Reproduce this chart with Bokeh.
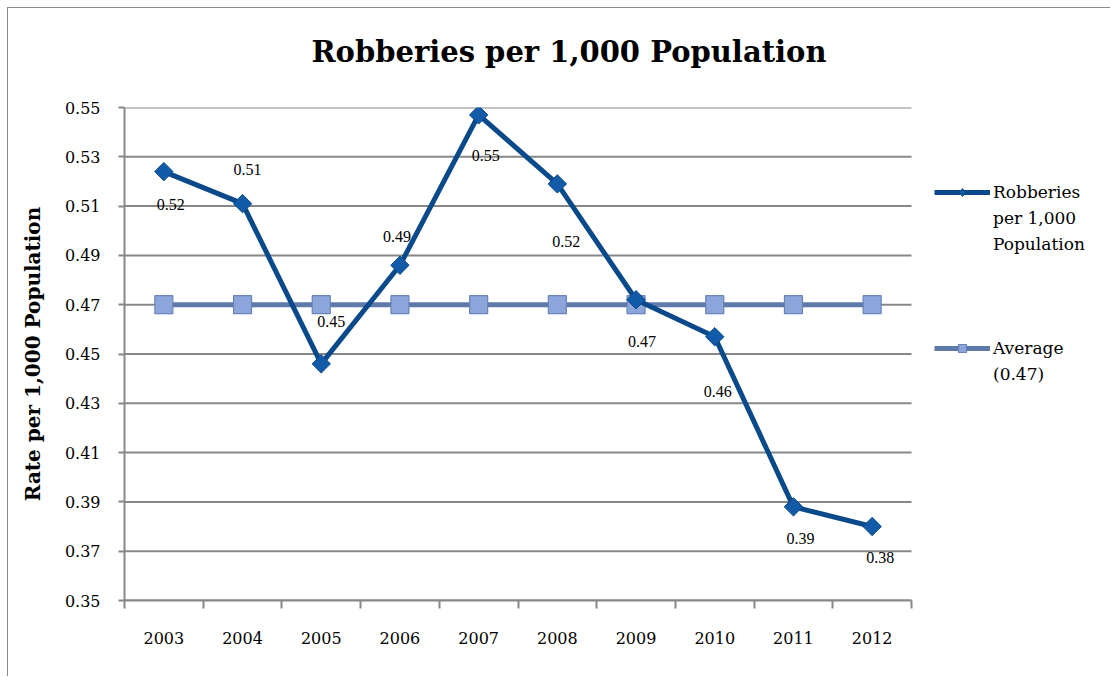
import numpy as np
from bokeh.plotting import figure
from bokeh.models import (Range1d, FixedTicker, PrintfTickFormatter, Legend, LegendItem,
                          ColumnDataSource)
from bokeh.embed import file_html
from bokeh.resources import INLINE

# ---- data ----
years = ["2003", "2004", "2005", "2006", "2007", "2008", "2009", "2010", "2011", "2012"]
robberies = [0.524, 0.511, 0.446, 0.486, 0.547, 0.519, 0.472, 0.457, 0.388, 0.380]
average = [0.47, 0.47, 0.47, 0.47, 0.47, 0.47, 0.47, 0.47, 0.47, 0.47]
y_ticks = [0.35, 0.37, 0.39, 0.41, 0.43, 0.45, 0.47, 0.49, 0.51, 0.53, 0.55]
Y0, Y1 = 0.35, 0.55

# label placement (screen px offsets from each point)
label_dx = [7, 5, 10, -3, 7, 9, 6, 3, 7, 8]
label_dy = [33, -34, -42, -29, 41, 58, 42, 55, 32, 31]

FONT = "DejaVu Serif"
GRID = "#878787"
DARK = "#0B4A8A"
DIAM = "#115BA8"
AVG_LINE = "#5E79AA"
AVG_FILL = "#8CA5DA"
AVG_EDGE = "#6A84B8"

# geometry (px inside the canvas): plotting area spans FL..FR, legend lives right of FR
FL, FR, FT, FB = 116, 903, 99, 592
W, H = 1103, 669
N = len(years)
X_END = N * (W - FL) / (FR - FL)

xpos = np.arange(N) + 0.5

src = ColumnDataSource(dict(
    x=xpos, rob=robberies, avg=average,
    lbl=[f"{v:.2f}" for v in robberies],
    dx=label_dx, dy=label_dy,
))
grid_src = ColumnDataSource(dict(x0=[0] * len(y_ticks), x1=[N] * len(y_ticks), y=y_ticks))

p = figure(width=W, height=H, output_backend="svg", toolbar_location=None,
           x_range=Range1d(0, X_END), y_range=Range1d(Y0, Y1),
           min_border_left=FL, min_border_right=0, min_border_top=FT,
           min_border_bottom=H - FB)
p.styles = {"margin-left": "7px", "margin-top": "7px",
            "border-left": "1px solid #8a8a8a", "border-top": "1px solid #8a8a8a"}
p.outline_line_color = None
p.background_fill_color = "white"
p.border_fill_color = "white"

# title (trailing empty line lifts the title inside its panel)
p.title.text = "Robberies per 1,000 Population\n"
p.title.text_font = FONT
p.title.text_font_style = "bold"
p.title.text_font_size = "29px"
p.title.text_line_height = 1.1
p.title.align = "left"
p.title.offset = 187
p.title.vertical_align = "top"
p.title.standoff = 0
p.title.text_color = "black"

# x axis: ticks between categories, labels at centres
p.xaxis.bounds = (0, N)
p.xaxis.ticker = FixedTicker(ticks=list(xpos), minor_ticks=list(range(N + 1)))
p.xaxis.major_label_overrides = {float(x): y for x, y in zip(xpos, years)}
p.xaxis.major_tick_out = 0
p.xaxis.major_tick_in = 0
p.xaxis.minor_tick_out = 8
p.xaxis.minor_tick_in = 0
p.xaxis.minor_tick_line_color = GRID
p.xaxis.minor_tick_line_width = 2
p.xaxis.axis_line_color = GRID
p.xaxis.axis_line_width = 2
p.xaxis.major_label_standoff = 23
p.xaxis.major_label_text_font = FONT
p.xaxis.major_label_text_font_size = "16px"
p.xaxis.major_label_text_color = "black"

# y axis
p.yaxis.ticker = FixedTicker(ticks=y_ticks)
p.yaxis.formatter = PrintfTickFormatter(format="%.2f")
p.yaxis.major_tick_out = 6
p.yaxis.major_tick_in = 0
p.yaxis.minor_tick_out = 0
p.yaxis.minor_tick_in = 0
p.yaxis.major_tick_line_color = GRID
p.yaxis.major_tick_line_width = 2
p.yaxis.axis_line_color = GRID
p.yaxis.axis_line_width = 2
p.yaxis.major_label_standoff = 18
p.yaxis.major_label_text_font = FONT
p.yaxis.major_label_text_font_size = "16px"
p.yaxis.major_label_text_color = "black"
p.yaxis.axis_label = "Rate per 1,000 Population"
p.yaxis.axis_label_text_font = FONT
p.yaxis.axis_label_text_font_style = "bold"
p.yaxis.axis_label_text_font_size = "20px"
p.yaxis.axis_label_text_color = "black"
p.yaxis.axis_label_standoff = 17

# horizontal grid lines limited to the category span
p.xgrid.grid_line_color = None
p.ygrid.grid_line_color = None
p.segment(x0="x0", y0="y", x1="x1", y1="y", source=grid_src,
          line_color=GRID, line_width=2)

# average series
avg_line = p.line("x", "avg", source=src, line_color=AVG_LINE, line_width=5)
avg_mark = p.scatter("x", "avg", source=src, marker="square", size=18,
                     fill_color=AVG_FILL, line_color=AVG_EDGE, line_width=1.2)

# robberies series
rob_line = p.line("x", "rob", source=src, line_color=DARK, line_width=5)
rob_mark = p.scatter("x", "rob", source=src, marker="square", angle=np.pi / 4, size=13,
                     fill_color=DIAM, line_color=DARK, line_width=1)

p.text("x", "rob", text="lbl", source=src, x_offset="dx", y_offset="dy",
       text_font=FONT, text_font_size="16px", text_color="black",
       text_align="center", text_baseline="middle")

# legend-only diamond key (a single missing point, so nothing is drawn on the chart)
rob_key = p.scatter(x=[np.nan], y=[np.nan], marker="diamond", size=13,
                    fill_color=DIAM, line_color=DARK, line_width=1)

# legend: wrapped labels as extra glyph-less rows
legend = Legend(items=[
    LegendItem(label="Robberies", renderers=[rob_line, rob_key]),
    LegendItem(label="per 1,000", renderers=[]),
    LegendItem(label="Population", renderers=[]),
    LegendItem(label=" ", renderers=[]),
    LegendItem(label=" ", renderers=[]),
    LegendItem(label=" ", renderers=[]),
    LegendItem(label="Average", renderers=[avg_line, avg_mark]),
    LegendItem(label="(0.47)", renderers=[]),
], location=(810, 213))
legend.label_text_font = FONT
legend.label_text_font_size = "17px"
legend.label_text_color = "black"
legend.glyph_width = 56
legend.glyph_height = 20
legend.label_height = 26
legend.label_standoff = 3
legend.spacing = 0
legend.border_line_color = None
legend.background_fill_color = None
legend.margin = 0
legend.padding = 0
p.add_layout(legend)

open("out.html", "w").write(file_html(p, INLINE))
